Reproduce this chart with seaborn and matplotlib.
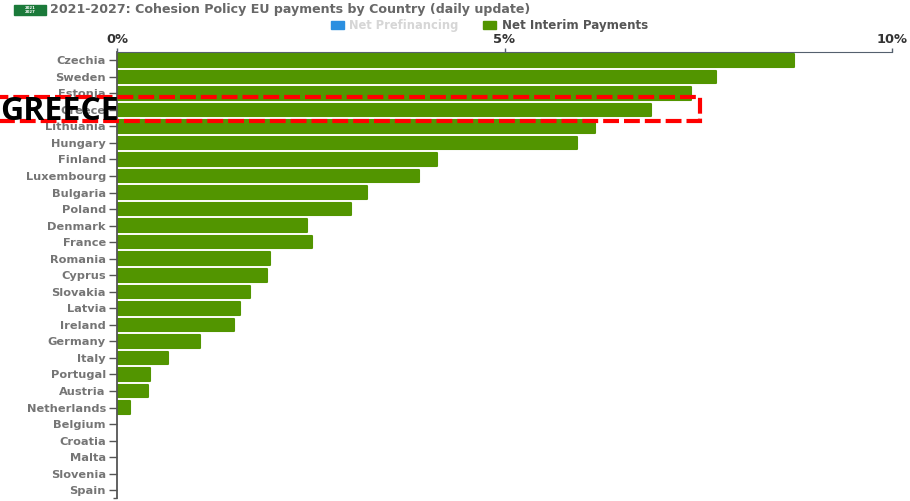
#!/usr/bin/env python3
"""Cohesion Policy EU payments by country, horizontal bars"""
import matplotlib
matplotlib.use("Agg")
import matplotlib.pyplot as plt
from matplotlib.patches import Rectangle
import pandas as pd
import seaborn as sns

countries = ["Czechia", "Sweden", "Estonia", "Greece", "Lithuania", "Hungary", "Finland",
             "Luxembourg", "Bulgaria", "Poland", "Denmark", "France", "Romania", "Cyprus",
             "Slovakia", "Latvia", "Ireland", "Germany", "Italy", "Portugal", "Austria",
             "Netherlands", "Belgium", "Croatia", "Malta", "Slovenia", "Spain"]
net_interim = [8.73, 7.73, 7.40, 6.89, 6.17, 5.94, 4.13, 3.90, 3.23, 3.02, 2.45, 2.51, 1.98,
               1.93, 1.71, 1.59, 1.51, 1.07, 0.66, 0.42, 0.40, 0.17, 0, 0, 0, 0, 0]
pct_ticks = [0, 5, 10]
pct_labels = ["0%", "5%", "10%"]

GREEN = "#529500"
GREY = "#757575"
W, H = 910, 501

sns.set_style("white")
plt.rcParams["font.family"] = ["DejaVu Sans"]
df = pd.DataFrame({"Country": countries, "Net Interim": net_interim})

fig = plt.figure(figsize=(W / 100, H / 100), dpi=100)
ax = fig.add_axes([117 / W, 1 - 498.5 / H, 775 / W, 446.5 / H])

sns.barplot(data=df, y="Country", x="Net Interim", color=GREEN, saturation=1,
            width=0.76, ax=ax)
# thick edge with round joins gives the soft bar corners
for bar, val in zip(ax.patches, net_interim):
    if val > 0:
        bar.set(edgecolor=GREEN, linewidth=1.5, joinstyle="round")
    else:
        bar.set_visible(False)

ax.set_xlim(0, 10)
ax.set_ylim(len(countries) - 0.5, -0.5)
ax.set_xlabel("")
ax.set_ylabel("")

ax.xaxis.tick_top()
ax.set_xticks(pct_ticks)
ax.set_xticklabels(pct_labels, fontsize=9.4, fontweight="bold", color="#333333")
ax.tick_params(axis="x", length=3, width=1, color="#55606e", pad=1)
ax.tick_params(axis="y", length=6, width=1, color="#555555", pad=2, left=True,
               labelsize=8.2, labelcolor=GREY)
for lab in ax.get_yticklabels():
    lab.set_fontweight("bold")
ax.set_yticks([len(countries) - 0.5], minor=True)
ax.tick_params(axis="y", which="minor", length=3, width=1, color="#555555", left=True)

for side in ["right", "bottom"]:
    ax.spines[side].set_visible(False)
ax.spines["top"].set_color("#55606e")
ax.spines["left"].set_color("#555555")
ax.spines["left"].set_linewidth(1.3)


def to_fig(x, y):
    return x / W, 1 - y / H


# header badge, title and legend
fig.add_artist(Rectangle(to_fig(14, 15), 32 / W, 10 / H, color="#1b7a3a"))
fig.text(*to_fig(30, 10), "2021\n2027", color="white", fontsize=2.8, fontweight="bold",
         ha="center", va="center", linespacing=0.9)
fig.text(*to_fig(50, 10), "2021-2027: Cohesion Policy EU payments by Country (daily update)",
         fontsize=9.1, fontweight="bold", color="#686868", va="center")

fig.add_artist(Rectangle(to_fig(331, 29), 13 / W, 8 / H, color="#2b8fe0"))
fig.text(*to_fig(349, 25), "Net Prefinancing", fontsize=8.3, fontweight="bold",
         color="#d6d6d6", va="center")
fig.add_artist(Rectangle(to_fig(483, 29), 13 / W, 8 / H, color=GREEN))
fig.text(*to_fig(502, 25), "Net Interim Payments", fontsize=8.6, fontweight="bold",
         color="#555555", va="center")

# highlight box around Greece
fig.add_artist(Rectangle(to_fig(-4, 121), 704 / W, 24 / H, fill=False, edgecolor="#ff0000",
                         linewidth=3, linestyle=(0, (3.8, 1.2)), zorder=5))
fig.text(*to_fig(0, 111), "GREECE", fontsize=23, fontweight="bold", color="black",
         family="Open Sans", va="center", ha="left", zorder=6)

plt.savefig("out.png", dpi=100)
plt.close()
